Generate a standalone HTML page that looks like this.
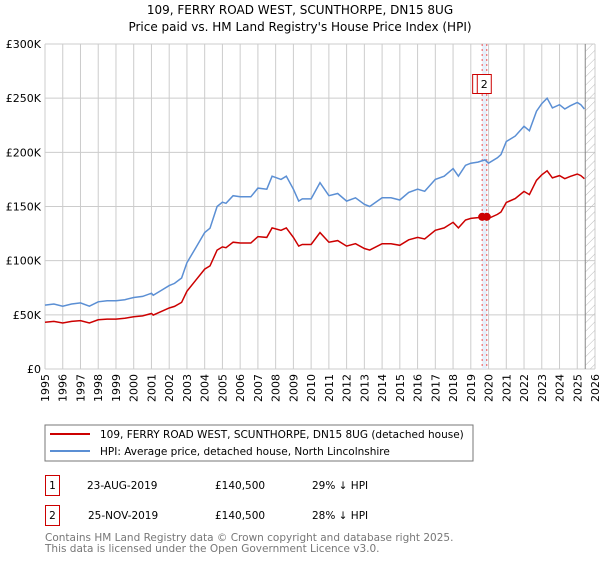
<!DOCTYPE html>
<html><head><meta charset="utf-8"><style>
body{margin:0;background:#fff;font-family:"DejaVu Sans","Liberation Sans",sans-serif;}
svg text{font-family:"DejaVu Sans","Liberation Sans",sans-serif;}
</style></head><body>
<svg id="c" width="600" height="560" xmlns="http://www.w3.org/2000/svg">
<defs><pattern id="hatch" width="6" height="6" patternUnits="userSpaceOnUse" patternTransform="rotate(45)"><line x1="0" y1="0" x2="0" y2="6" stroke="#bbb" stroke-width="1"/></pattern></defs>
<text x="300" y="14" text-anchor="middle" font-size="12">109, FERRY ROAD WEST, SCUNTHORPE, DN15 8UG</text>
<text x="300" y="31" text-anchor="middle" font-size="12">Price paid vs. HM Land Registry's House Price Index (HPI)</text>
<g id="grid"></g><g id="marks"></g><g id="axes"></g>
<rect x="45" y="425" width="428" height="36" fill="#fff" stroke="#777"/>
<line x1="50" y1="434" x2="90" y2="434" stroke="#cc0000" stroke-width="2"/>
<text x="100" y="438" font-size="10.5">109, FERRY ROAD WEST, SCUNTHORPE, DN15 8UG (detached house)</text>
<line x1="50" y1="451" x2="90" y2="451" stroke="#5b8fd4" stroke-width="2"/>
<text x="100" y="455" font-size="10.5">HPI: Average price, detached house, North Lincolnshire</text>
<rect x="45.5" y="475.5" width="14" height="20" fill="none" stroke="#c00"/>
<text x="52.5" y="489" font-size="10.5" text-anchor="middle">1</text>
<text x="87" y="489" font-size="10.5">23-AUG-2019</text>
<text x="215" y="489" font-size="10.5">£140,500</text>
<text x="312" y="489" font-size="10.5">29% ↓ HPI</text>
<rect x="45.5" y="505.5" width="14" height="20" fill="none" stroke="#c00"/>
<text x="52.5" y="519" font-size="10.5" text-anchor="middle">2</text>
<text x="88" y="519" font-size="10.5">25-NOV-2019</text>
<text x="215" y="519" font-size="10.5">£140,500</text>
<text x="312" y="519" font-size="10.5">28% ↓ HPI</text>
<text x="45" y="541" font-size="10.5" fill="#777">Contains HM Land Registry data © Crown copyright and database right 2025.</text>
<text x="45" y="552" font-size="10.5" fill="#777">This data is licensed under the Open Government Licence v3.0.</text>
</svg>
<script>
const years=[1995,1996,1997,1998,1999,2000,2001,2002,2003,2004,2005,2006,2007,2008,2009,2010,2011,2012,2013,2014,2015,2016,2017,2018,2019,2020,2021,2022,2023,2024,2025,2026];
const yTicks=[0,50,100,150,200,250,300];
const yTickLabels=["£0","£50K","£100K","£150K","£200K","£250K","£300K"];
const hpiT=[1995,1995.5,1996,1996.5,1997,1997.5,1998,1998.5,1999,1999.5,2000,2000.5,2001,2001.1,2001.5,2002,2002.3,2002.7,2003,2003.5,2004,2004.3,2004.7,2005,2005.2,2005.6,2006,2006.6,2007,2007.5,2007.8,2008.3,2008.6,2009,2009.3,2009.5,2010,2010.5,2011,2011.5,2012,2012.5,2013,2013.3,2014,2014.5,2015,2015.5,2016,2016.4,2017,2017.5,2018,2018.3,2018.7,2019,2019.4,2019.8,2020,2020.5,2020.7,2021,2021.5,2022,2022.3,2022.7,2023,2023.3,2023.6,2024,2024.3,2024.6,2025,2025.2,2025.4];
const hpiV=[59,60,58,60,61,58,62,63,63,64,66,67,70,68,72,77,79,84,98,112,126,130,150,154,153,160,159,159,167,166,178,175,178,166,155,157,157,172,160,162,155,158,152,150,158,158,156,163,166,164,175,178,185,178,188,190,191,193,190,195,198,210,215,224,220,238,245,250,241,244,240,243,246,244,240];
const saleT=[2019.64,2019.9];
const saleV=[140.5,140.5];
const hpiAtSale=192;
const X=t=>45+(t-1995)*(550/31), Y=v=>369-v*(325/300);
const NS="http://www.w3.org/2000/svg";
function mk(p,tag,a){const e=document.createElementNS(NS,tag);for(const k in a)e.setAttribute(k,a[k]);p.appendChild(e);return e;}
const grid=document.getElementById('grid'),marks=document.getElementById('marks'),axes=document.getElementById('axes');
years.forEach(y=>{const l=mk(grid,'line',{x1:X(y),x2:X(y),y1:44,y2:369,stroke:'#ccc'});


const t=mk(axes,'text',{x:0,y:0,'font-size':11,'text-anchor':'end',transform:`translate(${X(y)+4},374) rotate(-90)`});t.textContent=y;

});
yTicks.forEach((v,i)=>{const l=mk(grid,'line',{x1:45,x2:595,y1:Y(v),y2:Y(v),stroke:'#ccc'});


const t=mk(axes,'text',{x:41,y:Y(v)+4,'font-size':11,'text-anchor':'end'});t.textContent=yTickLabels[i];

});
const h=mk(grid,'rect',{x:X(2025.45),y:44,width:595-X(2025.45),height:325,fill:'url(#hatch)'});


mk(grid,'line',{x1:X(2025.45),x2:X(2025.45),y1:44,y2:369,stroke:'#888'});
const band=mk(marks,'rect',{x:X(saleT[0]),y:44,width:X(saleT[1])-X(saleT[0]),height:325,fill:'#dde8f8',opacity:0.7});


saleT.forEach((t,i)=>{const l=mk(marks,'line',{x1:X(t),x2:X(t),y1:44,y2:369,stroke:'#e55','stroke-dasharray':'2,3'});

});
const hp=hpiT.map((t,i)=>X(t).toFixed(1)+','+Y(hpiV[i]).toFixed(1)).join(' ');
const hl=mk(marks,'polyline',{points:hp,fill:'none',stroke:'#5b8fd4','stroke-width':1.5});


const rp=hpiT.map((t,i)=>X(t).toFixed(1)+','+Y(hpiV[i]*saleV[0]/hpiAtSale).toFixed(1)).join(' ');
const rl=mk(marks,'polyline',{points:rp,fill:'none',stroke:'#cc0000','stroke-width':1.5});


saleT.forEach((t,i)=>{const c=mk(marks,'circle',{cx:X(t),cy:Y(saleV[i]),r:4,fill:'#cc0000'});


const b=mk(marks,'rect',{x:X(t)-9.5,y:74.5,width:14,height:19,fill:'#fff',stroke:'#c00'});


const tx=mk(marks,'text',{x:X(t)-2.5,y:88,'font-size':11,'text-anchor':'middle'});tx.textContent=String(i+1);

});
</script>
</body></html>
